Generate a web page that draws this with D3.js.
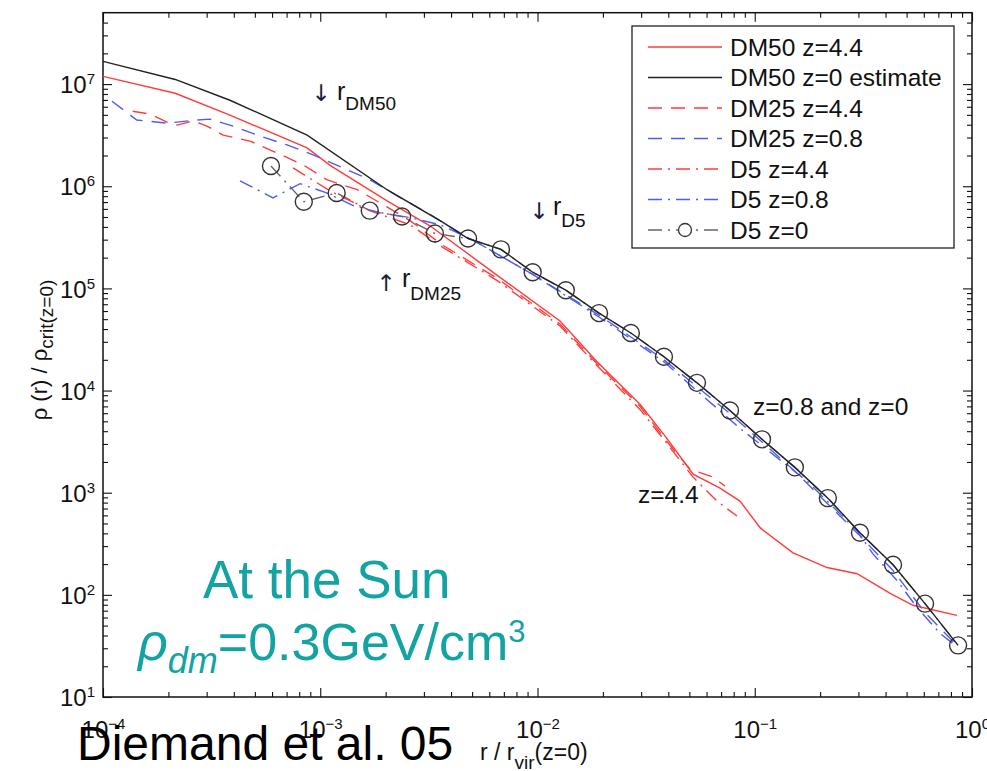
<!DOCTYPE html>
<html lang="en">
<head>
<meta charset="UTF-8">
<title>density profiles</title>
<script src="https://cdn.jsdelivr.net/npm/d3@7"></script>
<style>
body{margin:0;background:#fff;}
svg{font-family:"Liberation Sans",Arial,sans-serif;}
</style>
</head>
<body>
<div id="chart"></div>
<script>
// values: [r/rvir, rho/rho_crit]
var dm50_z44=[[1e-4,1.19e7],[2.15e-4,8.13e6],[3.84e-4,4.97e6],[8.7e-4,2.37e6],[1.11e-3,1.6e6],[2.03e-3,7.2e5],[3.2e-3,4.1e5],
  [6.5e-3,1.35e5],[1.27e-2,4.8e4],[1.88e-2,1.91e4],[2.97e-2,7.3e3],[3.94e-2,3.4e3],[5.2e-2,1.52e3],[6.92e-2,1.11e3],
  [8.55e-2,828],[0.106,452],[0.15,258],[0.215,185],[0.296,161],[0.422,103],[0.535,79],[0.853,63]];
var dm50_z0=[[1e-4,1.67e7],[2.15e-4,1.11e7],[3.84e-4,6.95e6],[8.7e-4,3.17e6],[2.03e-3,9.25e5],[3.67e-3,4.42e5],[4.79e-3,3.08e5],
  [6.79e-3,2.41e5],[9.5e-3,1.44e5],[1.35e-2,9.6e4],[1.92e-2,5.73e4],[2.69e-2,3.66e4],[3.82e-2,2.14e4],[5.42e-2,1.19e4],
  [7.69e-2,6.37e3],[0.108,3.33e3],[0.153,1.77e3],[0.217,885],[0.305,405],[0.433,197],[0.608,82],[0.863,32]];
var dm25_z44=[[1.37e-4,5.43e6],[1.65e-4,5.08e6],[1.97e-4,4.25e6],[2.19e-4,3.97e6],[2.6e-4,4.35e6],[3.01e-4,3.88e6],[3.57e-4,3.17e6],
  [4.75e-4,2.77e6],[6.32e-4,2.12e6],[8.34e-4,1.62e6],[1.07e-3,1.16e6],[1.48e-3,9.25e5],[1.88e-3,6.9e5],[2.59e-3,4.61e5],
  [3.67e-3,2.64e5],[6.5e-3,1.26e5],[1.27e-2,4.48e4],[1.88e-2,1.83e4],[2.97e-2,6.97e3],[3.94e-2,3.18e3],[5.04e-2,1.7e3],
  [6.43e-2,1.42e3],[7.3e-2,1.16e3]];
var dm25_z08=[[1.1e-4,6.8e6],[1.43e-4,4.45e6],[1.97e-4,4.15e6],[2.71e-4,4.45e6],[3.11e-4,4.54e6],[3.97e-4,3.88e6],[5.28e-4,3.1e6],
  [7.03e-4,2.54e6],[9.27e-4,2.03e6],[1.33e-3,1.45e6],[1.69e-3,1.16e6],[2.25e-3,8.1e5],[3.2e-3,5.3e5],[4.54e-3,3.37e5],
  [9.5e-3,1.37e5],[1.92e-2,5.48e4],[3.82e-2,2.0e4],[7.69e-2,5.96e3],[0.153,1.62e3],[0.305,378],[0.433,173],[0.608,67],[0.853,32]];
var d5_z44=[[7.5e-4,1.51e6],[1.11e-3,9.0e5],[1.69e-3,5.77e5],[2.59e-3,4.2e5],[3.67e-3,2.52e5],[6.5e-3,1.2e5],[1.27e-2,4.28e4],
  [1.88e-2,1.75e4],[2.97e-2,6.5e3],[3.94e-2,3.04e3],[5.2e-2,1.42e3],[6.7e-2,828],[8.28e-2,592]];
var d5_z08=[[4.27e-4,1.13e6],[6.06e-4,7.7e5],[8.08e-4,1.06e6],[1.07e-3,8.6e5],[1.42e-3,6.46e5],[1.88e-3,5.5e5],[2.59e-3,4.93e5],
  [3.56e-3,4.2e5],[4.9e-3,3.08e5],[9.5e-3,1.37e5],[1.92e-2,5.25e4],[3.82e-2,1.91e4],[8.55e-2,4.26e3],[0.174,1.3e3],[0.296,423],
  [0.35,252],[0.452,138],[0.559,75],[0.713,42],[0.853,31]];
var d5_z0_r=[5.93e-4,8.4e-4,1.19e-3,1.69e-3,2.38e-3,3.37e-3,4.79e-3,6.79e-3,9.5e-3,1.35e-2,1.92e-2,2.69e-2,3.82e-2,5.42e-2,
  7.69e-2,0.108,0.153,0.217,0.305,0.433,0.608,0.863];
var d5_z0_rho=[1.58e6,7.06e5,8.6e5,5.77e5,5.05e5,3.45e5,3.08e5,2.41e5,1.44e5,9.6e4,5.73e4,3.66e4,2.14e4,1.19e4,6.37e3,3.33e3,
  1.77e3,885,405,197,82,32];

var xTicks=[1e-4,1e-3,1e-2,1e-1,1];
var xTickExp=["\u22124","\u22123","\u22122","\u22121","0"];
var yTicks=[1e1,1e2,1e3,1e4,1e5,1e6,1e7];
var yTickExp=["1","2","3","4","5","6","7"];
var legendNames=["DM50 z=4.4","DM50 z=0 estimate","DM25 z=4.4","DM25 z=0.8","D5 z=4.4","D5 z=0.8","D5 z=0"];

var width=987,height=771,
    plot={left:103,top:12.7,right:972,bottom:697};
var red="#ff3b3b",blue="#4f5cf0",black="#222",gray="#666",teal="#13a3a3";
var dash="14,9",dashdot="14,6,2,6";

var svg=d3.select('#chart').append('svg').attr('width',width).attr('height',height);

var x=d3.scaleLog().domain([1e-4,1]).range([plot.left,plot.right]);
var y=d3.scaleLog().domain([10,5e7]).range([plot.bottom,plot.top]);

// minor tick positions 2..9 x 10^k
function minorVals(lo,hi){
    var v=[];
    for(var k=Math.floor(Math.log10(lo));k<Math.log10(hi);k++)
        for(var m=2;m<10;m++){
            var t=m*Math.pow(10,k);
            if(t>lo&&t<hi) v.push(t);
        }
    return v;
}

function drawAxis(axis,tx,ty){
    var g=svg.append('g').attr('transform','translate('+tx+','+ty+')').call(axis);
    g.attr('font-size',null).attr('font-family',null);
    g.select('.domain').remove();
    g.selectAll('line').attr('stroke','#111').attr('stroke-width',1.1);
    return g;
}
// minor ticks, all four sides
drawAxis(d3.axisBottom(x).tickValues(minorVals(1e-4,1)).tickSizeInner(-5).tickSizeOuter(0).tickFormat(''),0,plot.bottom);
drawAxis(d3.axisTop(x).tickValues(minorVals(1e-4,1)).tickSizeInner(-5).tickSizeOuter(0).tickFormat(''),0,plot.top);
drawAxis(d3.axisLeft(y).tickValues(minorVals(10,5e7)).tickSizeInner(-5).tickSizeOuter(0).tickFormat(''),plot.left,0);
drawAxis(d3.axisRight(y).tickValues(minorVals(10,5e7)).tickSizeInner(-5).tickSizeOuter(0).tickFormat(''),plot.right,0);
// major ticks
var gx=drawAxis(d3.axisBottom(x).tickValues(xTicks).tickSizeInner(-9).tickSizeOuter(0).tickPadding(24).tickFormat(''),0,plot.bottom);
drawAxis(d3.axisTop(x).tickValues(xTicks).tickSizeInner(-9).tickSizeOuter(0).tickFormat(''),0,plot.top);
var gy=drawAxis(d3.axisLeft(y).tickValues(yTicks).tickSizeInner(-9).tickSizeOuter(0).tickPadding(8).tickFormat(''),plot.left,0);
drawAxis(d3.axisRight(y).tickValues(yTicks).tickSizeInner(-9).tickSizeOuter(0).tickFormat(''),plot.right,0);

function powerLabel(sel,exps){
    sel.selectAll('.tick text').each(function(d,i){
        var t=d3.select(this).attr('fill','#111').attr('font-size','24px');
        t.append('tspan').text('10');
        t.append('tspan').attr('dy','-0.6em').attr('font-size','15px').text(exps[i]);
    });
}
powerLabel(gx,xTickExp);
powerLabel(gy,yTickExp);
gy.selectAll('.tick text').attr('dy','0.36em');
svg.selectAll('.tick text:empty').remove();

// frame
svg.append('rect').attr('x',plot.left).attr('y',plot.top)
    .attr('width',plot.right-plot.left).attr('height',plot.bottom-plot.top)
    .attr('fill','none').attr('stroke','#111').attr('stroke-width',1.5);

svg.append('clipPath').attr('id','clip').append('rect')
    .attr('x',plot.left).attr('y',plot.top)
    .attr('width',plot.right-plot.left).attr('height',plot.bottom-plot.top);

var line=d3.line().x(function(d){return x(d[0]);}).y(function(d){return y(d[1]);});
var board=svg.append('g').attr('clip-path','url(#clip)');

var d5_z0=d5_z0_r.map(function(r,i){return [r,d5_z0_rho[i]];});
var series=[dm50_z44,dm50_z0,dm25_z44,dm25_z08,d5_z44,d5_z08,d5_z0];
var styles=[
    {color:red,dash:null},
    {color:black,dash:null},
    {color:red,dash:dash},
    {color:blue,dash:dash},
    {color:red,dash:dashdot},
    {color:blue,dash:dashdot},
    {color:gray,dash:dashdot,marker:true}
];
var order=[6,0,2,4,3,5,1];
order.forEach(function(i){
    board.append('path').datum(series[i]).attr('d',line)
        .attr('fill','none').attr('stroke',styles[i].color)
        .attr('stroke-width',1.4)
        .attr('stroke-dasharray',styles[i].dash);
});
board.selectAll('circle.d5').data(d5_z0).enter().append('circle')
    .attr('class','d5')
    .attr('cx',function(d){return x(d[0]);})
    .attr('cy',function(d){return y(d[1]);})
    .attr('r',8.5).attr('fill','none').attr('stroke','#333').attr('stroke-width',1.4);

// legend
var leg=svg.append('g');
leg.append('rect').attr('x',632).attr('y',26).attr('width',322).attr('height',222)
    .attr('fill','#fff').attr('stroke','#222').attr('stroke-width',1.3);
legendNames.forEach(function(name,i){
    var yy=47+i*30.5;
    leg.append('line').attr('x1',648).attr('x2',722).attr('y1',yy).attr('y2',yy)
        .attr('stroke',styles[i].color).attr('stroke-width',1.4)
        .attr('stroke-dasharray',styles[i].dash);
    if(styles[i].marker)
        leg.append('circle').attr('cx',685).attr('cy',yy).attr('r',6.5)
            .attr('fill','#fff').attr('stroke','#333').attr('stroke-width',1.3);
    leg.append('text').attr('x',730).attr('y',yy).attr('dy','0.36em')
        .attr('font-size','24.5px').attr('fill','#111').text(name);
});

// annotations
function subText(xp,yp,main,sub,size,subSize,shift){
    var t=svg.append('text').attr('x',xp).attr('y',yp).attr('font-size',size+'px').attr('fill','#111');
    t.append('tspan').text(main);
    t.append('tspan').attr('dy',shift).attr('font-size',subSize+'px').text(sub);
    return t;
}
function arrow(xp,yp,ch){
    svg.append('text').attr('x',xp).attr('y',yp).attr('text-anchor','middle')
        .attr('font-family','DejaVu Sans').attr('font-size','23px').attr('fill','#1c1c3a').text(ch);
}
arrow(321,101,'\u2193');
subText(337,100,'r','DM50',25,19,10);
arrow(539,219,'\u2193');
subText(553,215,'r','D5',25,19,12);
arrow(386,291,'\u2191');
subText(402,287,'r','DM25',25,19,13);
svg.append('text').attr('x',753).attr('y',415).attr('font-size','24.5px').attr('fill','#111').text('z=0.8 and z=0');
svg.append('text').attr('x',638).attr('y',503).attr('font-size','24.5px').attr('fill','#111').text('z=4.4');

// axis titles
var yl=svg.append('text').attr('transform','translate(47,350) rotate(-90)')
    .attr('text-anchor','middle').attr('font-size','22px').attr('fill','#111');
yl.append('tspan').text('\u03c1 (r) / \u03c1');
yl.append('tspan').attr('dy',6).attr('font-size','19px').text('crit(z=0)');
subText(480,760,'r / r','vir',23,19,9).append('tspan').attr('dy',-9).attr('font-size','23px').text('(z=0)');

// slide texts
svg.append('text').attr('x',203).attr('y',598).attr('font-size','53px').attr('fill',teal).text('At the Sun');
var rt=svg.append('text').attr('x',138).attr('y',660).attr('font-size','52px').attr('fill',teal);
rt.append('tspan').attr('font-style','italic').text('\u03c1');
rt.append('tspan').attr('font-style','italic').attr('font-size','36px').attr('dy',13).text('dm');
rt.append('tspan').attr('dy',-13).text('=0.3GeV/cm');
rt.append('tspan').attr('font-size','31px').attr('dy',-18).text('3');
svg.append('text').attr('x',77).attr('y',760).attr('font-size','48px').attr('fill','#000').text('Diemand et al. 05');
</script>
</body>
</html>
